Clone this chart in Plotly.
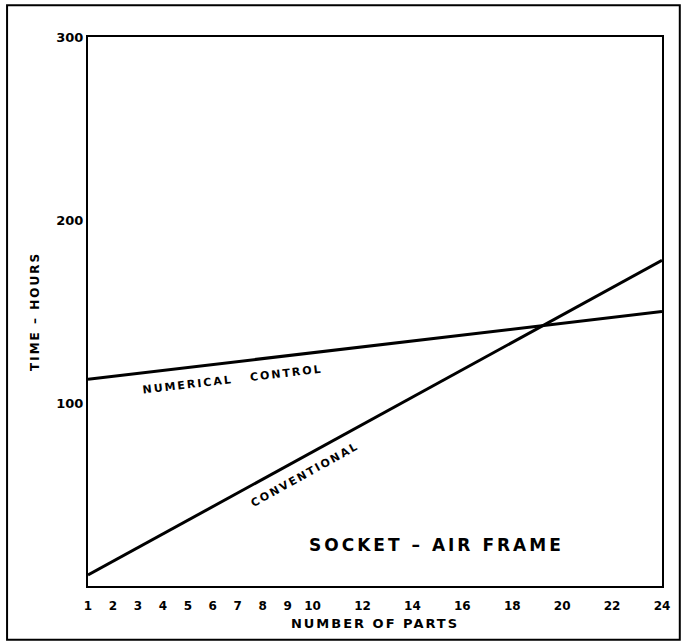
import plotly.graph_objects as go

# Data
parts = [1, 24]
numerical_control = [113, 150]
conventional = [6, 178]

x_ticks = [1, 2, 3, 4, 5, 6, 7, 8, 9, 10, 12, 14, 16, 18, 20, 22, 24]
y_ticks = [100, 200, 300]

FONT = "DejaVu Sans"

fig = go.Figure()
fig.add_trace(go.Scatter(x=parts, y=numerical_control, mode="lines",
                         line=dict(color="black", width=3), showlegend=False,
                         name="NUMERICAL CONTROL"))
fig.add_trace(go.Scatter(x=parts, y=conventional, mode="lines",
                         line=dict(color="black", width=3), showlegend=False,
                         name="CONVENTIONAL"))

fig.add_annotation(x=6.8, y=112.7, text="NUMERICAL   CONTROL", showarrow=False,
                   textangle=-6.7, font=dict(family=FONT, size=11, color="black", weight="bold"))
fig.add_annotation(x=9.7, y=61, text="CONVENTIONAL", showarrow=False,
                   textangle=-29, font=dict(family=FONT, size=11, color="black", weight="bold"))
fig.add_annotation(x=14.95, y=22.4, text="SOCKET – AIR FRAME", showarrow=False,
                   font=dict(family=FONT, size=17, color="black", weight="bold"))

# outer frame
fig.add_shape(type="rect", xref="paper", yref="paper",
              x0=-0.141, x1=1.031, y0=-0.098, y1=1.058,
              line=dict(color="black", width=2))

fig.update_xaxes(range=[1, 24], tickvals=x_ticks, ticktext=[str(v) for v in x_ticks],
                 showgrid=False, zeroline=False, showline=True, mirror=True,
                 linecolor="black", linewidth=2,
                 ticks="outside", ticklen=8, tickcolor="rgba(0,0,0,0)",
                 tickfont=dict(family=FONT, size=12, color="black", weight="bold"),
                 title=dict(text="NUMBER OF PARTS", standoff=6,
                            font=dict(family=FONT, size=13, color="black", weight="bold")))
fig.update_yaxes(range=[0, 300], tickvals=y_ticks, ticktext=[str(v) for v in y_ticks],
                 showgrid=False, zeroline=False, showline=True, mirror=True,
                 linecolor="black", linewidth=2, ticks="",
                 tickfont=dict(family=FONT, size=13, color="black", weight="bold"),
                 title=dict(text="TIME – HOURS", standoff=14,
                            font=dict(family=FONT, size=12, color="black", weight="bold")))

fig.update_layout(width=681, height=642, plot_bgcolor="white", paper_bgcolor="white",
                  margin=dict(l=88, r=19, t=37, b=56), showlegend=False)

post = """
document.body.style.margin = '0';
function spaceLetters() {
  var gd = document.getElementById('{plot_id}');
  if (!gd) return;
  gd.querySelectorAll('text.annotation-text').forEach(function(t){
    var s = t.textContent.indexOf('SOCKET') === 0 ? '3px' : '2px';
    t.style.letterSpacing = s;
  });
  gd.querySelectorAll('text.xtitle, text.ytitle').forEach(function(t){
    t.style.letterSpacing = '2px';
  });
}
spaceLetters();
setTimeout(spaceLetters, 30);
"""

fig.write_html("out.html", post_script=post, config={"displayModeBar": False})
